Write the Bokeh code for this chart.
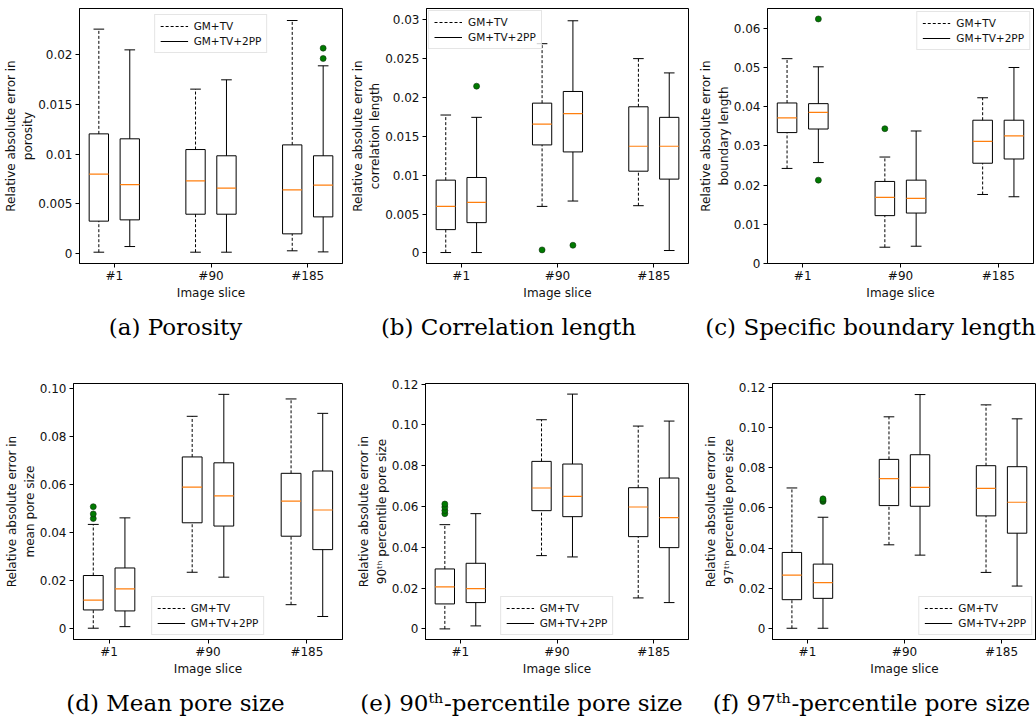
from bokeh.plotting import figure
from bokeh.layouts import column, row
from bokeh.models import (Range1d, FixedTicker, CustomJSTickFormatter, Legend,
                          LegendItem)
from bokeh.core.properties import value
from bokeh.embed import file_html
from bokeh.resources import INLINE

# ---------------- data ----------------
categories = ["#1", "#90", "#185"]
series_names = ["GM+TV", "GM+TV+2PP"]

# five-number summaries per image slice: [lower whisker, Q1, median, Q3, upper whisker]
porosity_gmtv = [[0.0001, 0.00323, 0.00797, 0.01203, 0.02259],
                 [0.0001, 0.00393, 0.00729, 0.01045, 0.01654],
                 [0.00024, 0.00195, 0.00639, 0.01092, 0.02346]]
porosity_2pp = [[0.00067, 0.00336, 0.00692, 0.01153, 0.0205],
                [0.0001, 0.00393, 0.00655, 0.00982, 0.01748],
                [0.00013, 0.00366, 0.00686, 0.00982, 0.01889]]
porosity_gmtv_out = []
porosity_2pp_out = [(2, 0.01963), (2, 0.02067)]

corr_gmtv = [[0.00004, 0.00299, 0.00598, 0.00936, 0.01774],
             [0.00598, 0.01389, 0.01658, 0.01927, 0.02692],
             [0.00607, 0.01051, 0.01372, 0.0188, 0.025]]
corr_2pp = [[0.00004, 0.00389, 0.0065, 0.0097, 0.01744],
            [0.00667, 0.01299, 0.01791, 0.02077, 0.02987],
            [0.0003, 0.00949, 0.01372, 0.01744, 0.02316]]
corr_gmtv_out = [(1, 0.00038)]
corr_2pp_out = [(0, 0.02145), (1, 0.00098)]

bound_gmtv = [[0.02427, 0.03342, 0.03716, 0.04098, 0.05229],
              [0.00416, 0.01222, 0.01687, 0.02095, 0.02718],
              [0.01762, 0.0256, 0.03117, 0.03658, 0.04231]]
bound_2pp = [[0.02577, 0.03433, 0.03857, 0.04081, 0.05021],
             [0.00441, 0.01288, 0.01663, 0.02128, 0.03383],
             [0.01704, 0.02668, 0.03259, 0.03658, 0.05004]]
bound_gmtv_out = [(1, 0.03441)]
bound_2pp_out = [(0, 0.06243), (0, 0.02128)]

mean_gmtv = [[0.0003, 0.00791, 0.012, 0.02224, 0.04352],
             [0.0236, 0.0442, 0.05907, 0.07162, 0.08854],
             [0.0101, 0.03861, 0.05321, 0.0648, 0.09577]]
mean_2pp = [[0.00095, 0.0075, 0.01664, 0.02538, 0.04625],
            [0.02156, 0.04284, 0.05539, 0.06917, 0.09768],
            [0.00518, 0.03302, 0.04952, 0.06576, 0.08977]]
mean_gmtv_out = [(0, 0.04598), (0, 0.04789), (0, 0.0509)]
mean_2pp_out = []

p90_gmtv = [[0.0, 0.01224, 0.02057, 0.02939, 0.0511],
            [0.03592, 0.05796, 0.06906, 0.08212, 0.10253],
            [0.01518, 0.04522, 0.05976, 0.06922, 0.09943]]
p90_2pp = [[0.00147, 0.0129, 0.01976, 0.03216, 0.0565],
           [0.03527, 0.05502, 0.06498, 0.08082, 0.1151],
           [0.0129, 0.03984, 0.05453, 0.07396, 0.10188]]
p90_gmtv_out = [(0, 0.0565), (0, 0.058), (0, 0.0597), (0, 0.0612)]
p90_2pp_out = []

p97_gmtv = [[0.0, 0.01425, 0.02651, 0.03778, 0.06993],
            [0.04159, 0.06114, 0.07457, 0.08418, 0.10539],
            [0.02784, 0.05601, 0.06976, 0.08103, 0.11135]]
p97_2pp = [[0.0, 0.01491, 0.0227, 0.03198, 0.05534],
           [0.03645, 0.06081, 0.07026, 0.0865, 0.11649],
           [0.02104, 0.04739, 0.0628, 0.08053, 0.10439]]
p97_gmtv_out = []
p97_2pp_out = [(0, 0.0632), (0, 0.0638), (0, 0.0645)]

# y tick values and labels
porosity_ticks = [0, 0.005, 0.01, 0.015, 0.02]
porosity_labels = ["0", "0.005", "0.01", "0.015", "0.02"]
corr_ticks = [0, 0.005, 0.01, 0.015, 0.02, 0.025, 0.03]
corr_labels = ["0", "0.005", "0.01", "0.015", "0.02", "0.025", "0.03"]
bound_ticks = [0, 0.01, 0.02, 0.03, 0.04, 0.05, 0.06]
bound_labels = ["0", "0.01", "0.02", "0.03", "0.04", "0.05", "0.06"]
mean_ticks = [0, 0.02, 0.04, 0.06, 0.08, 0.10]
mean_labels = ["0", "0.02", "0.04", "0.06", "0.08", "0.10"]
pct_ticks = [0, 0.02, 0.04, 0.06, 0.08, 0.10, 0.12]
pct_labels = ["0", "0.02", "0.04", "0.06", "0.08", "0.10", "0.12"]

y_titles = ["Relative absolute error in\nporosity",
            "Relative absolute error in\ncorrelation length",
            "Relative absolute error in\nboundary length",
            "Relative absolute error in\nmean pore size",
            "Relative absolute error in\n90\u1d57\u02b0 percentile pore size",
            "Relative absolute error in\n97\u1d57\u02b0 percentile pore size"]
captions = ["(a) Porosity", "(b) Correlation length", "(c) Specific boundary length",
            "(d) Mean pore size", "(e) 90\u1d57\u02b0-percentile pore size",
            "(f) 97\u1d57\u02b0-percentile pore size"]
x_title = "Image slice"

# ---------------- styling / layout ----------------
SANS = "DejaVu Sans"
SERIF = "DejaVu Serif"
TXT = "#111111"
OFF = 0.16
HALF_W = 0.10
CAP_HALF = 0.055


def panel(stats_tv, stats_pp, out_tv, out_pp, yticks, ylabels, ytitle,
          yrange, W, H, L, R, T, B, leg_loc, leg_margin):
    p = figure(width=W, height=H, title=None, output_backend="svg",
               toolbar_location=None, x_range=Range1d(-0.36, 2.36),
               y_range=Range1d(*yrange), min_border_left=L, min_border_right=R,
               min_border_top=T, min_border_bottom=B)
    p.xgrid.visible = False
    p.ygrid.visible = False
    p.outline_line_color = "black"
    p.outline_line_width = 1
    p.outline_line_alpha = 1
    p.background_fill_color = "white"
    p.border_fill_color = "white"

    legend_r = []
    for k, (stats, outs, dash) in enumerate([(stats_tv, out_tv, "3 2"),
                                            (stats_pp, out_pp, "solid")]):
        dx = -OFF if k == 0 else OFF
        xs = [i + dx for i in range(len(categories))]
        low = [s[0] for s in stats]
        q1 = [s[1] for s in stats]
        med = [s[2] for s in stats]
        q3 = [s[3] for s in stats]
        high = [s[4] for s in stats]
        wr = p.segment(x0=xs, x1=xs, y0=q3, y1=high, line_color="black",
                       line_width=1, line_dash=dash)
        p.segment(x0=xs, x1=xs, y0=low, y1=q1, line_color="black",
                  line_width=1, line_dash=dash)
        p.segment(x0=[x - CAP_HALF for x in xs], x1=[x + CAP_HALF for x in xs],
                  y0=high, y1=high, line_color="black", line_width=1)
        p.segment(x0=[x - CAP_HALF for x in xs], x1=[x + CAP_HALF for x in xs],
                  y0=low, y1=low, line_color="black", line_width=1)
        p.quad(left=[x - HALF_W for x in xs], right=[x + HALF_W for x in xs],
               bottom=q1, top=q3, fill_color=None, line_color="black", line_width=1)
        p.segment(x0=[x - HALF_W for x in xs], x1=[x + HALF_W for x in xs],
                  y0=med, y1=med, line_color="#ff7f0e", line_width=1.2)
        if outs:
            p.scatter(x=[o[0] + dx for o in outs], y=[o[1] for o in outs], size=6,
                      fill_color="#007a00", line_color="#103010", line_width=0.6)
        legend_r.append(wr)

    # axes
    p.xaxis.ticker = FixedTicker(ticks=list(range(len(categories))))
    p.xaxis.formatter = CustomJSTickFormatter(args=dict(cat_names=categories),
                                              code="return cat_names[Math.round(tick)];")
    p.yaxis.ticker = FixedTicker(ticks=yticks)
    p.yaxis.formatter = CustomJSTickFormatter(args=dict(tick_vals=yticks, tick_txt=ylabels), code="""
        let best = 0, bd = Infinity;
        for (let i = 0; i < tick_vals.length; i++) {
            const d = Math.abs(tick_vals[i] - tick);
            if (d < bd) { bd = d; best = i; }
        }
        return tick_txt[best];
    """)
    for ax in (p.xaxis[0], p.yaxis[0]):
        ax.axis_line_color = "black"
        ax.major_tick_line_color = "black"
        ax.major_tick_out = 4
        ax.major_tick_in = 0
        ax.minor_tick_line_color = None
        ax.major_label_text_font = SANS
        ax.major_label_text_font_size = "12px"
        ax.major_label_text_color = TXT
        ax.major_label_standoff = 3
        ax.axis_label_text_font = SANS
        ax.axis_label_text_font_size = "12px"
        ax.axis_label_text_font_style = "normal"
        ax.axis_label_text_color = TXT
    p.xaxis.axis_label = x_title
    p.xaxis.major_label_standoff = 1
    p.xaxis.axis_label_standoff = 0
    p.yaxis.axis_label = ytitle
    p.yaxis.axis_label_standoff = 0
    p.yaxis.axis_label_text_line_height = 1.25

    legend = Legend(items=[LegendItem(label=series_names[0], renderers=[legend_r[0]]),
                           LegendItem(label=series_names[1], renderers=[legend_r[1]])],
                    location=leg_loc, margin=leg_margin, padding=5, spacing=3,
                    glyph_width=28, glyph_height=12, label_height=12,
                    label_standoff=6, label_text_font=SANS,
                    label_text_font_size="10.5px", label_text_color=TXT,
                    border_line_color="#cccccc", border_line_width=1,
                    background_fill_alpha=0.8)
    p.add_layout(legend)
    return p


def caption_box(text, W, H, cx, base_from_top):
    c = figure(width=W, height=H, title=None, output_backend="svg",
               toolbar_location=None, x_range=Range1d(0, W), y_range=Range1d(0, H),
               x_axis_type=None, y_axis_type=None, min_border=0)
    c.xgrid.visible = False
    c.ygrid.visible = False
    c.outline_line_color = None
    c.text(x=[cx], y=[H - base_from_top], text=[text], text_font=value(SERIF),
           text_font_size="23px", text_color="black", text_align="center",
           text_baseline="alphabetic")
    return c


W1, W2, W3 = 345, 345, 346
H_TOP, H_CAP1, H_BOT, H_CAP2 = 305, 45, 330, 41

pa = panel(porosity_gmtv, porosity_2pp, porosity_gmtv_out, porosity_2pp_out,
           porosity_ticks, porosity_labels, y_titles[0],
           (-0.00104, 0.02467), W1, H_TOP, 79, 3, 8, 42, "top_center", 6)
pb = panel(corr_gmtv, corr_2pp, corr_gmtv_out, corr_2pp_out,
           corr_ticks, corr_labels, y_titles[1],
           (-0.00137, 0.03145), W2, H_TOP, 81, 2, 7, 42, "top_left", 2)
pc = panel(bound_gmtv, bound_2pp, bound_gmtv_out, bound_2pp_out,
           bound_ticks, bound_labels, y_titles[2],
           (0.0, 0.0651), W3, H_TOP, 77, 3, 2, 42, "top_right", 3)
pd = panel(mean_gmtv, mean_2pp, mean_gmtv_out, mean_2pp_out,
           mean_ticks, mean_labels, y_titles[3],
           (-0.0044, 0.1022), W1, H_BOT, 73, 3, 29, 41, "bottom_center", 4)
pe = panel(p90_gmtv, p90_2pp, p90_gmtv_out, p90_2pp_out,
           pct_ticks, pct_labels, y_titles[4],
           (-0.0052, 0.1203), W2, H_BOT, 80, 2, 33, 41, "bottom_center", 4)
pf = panel(p97_gmtv, p97_2pp, p97_gmtv_out, p97_2pp_out,
           pct_ticks, pct_labels, y_titles[5],
           (-0.0056, 0.1220), W3, H_BOT, 82, 0, 33, 40, "bottom_right", 4)

ca = caption_box(captions[0], W1, H_CAP1, 175, 21)
cb = caption_box(captions[1], W2, H_CAP1, 163, 21)
cc = caption_box(captions[2], W3, H_CAP1, 180, 21)
cd = caption_box(captions[3], W1, H_CAP2, 175, 22)
ce = caption_box(captions[4], W2, H_CAP2, 176, 22)
cf = caption_box(captions[5], W3, H_CAP2, 181, 22)

layout = column(row(pa, pb, pc), row(ca, cb, cc),
                row(pd, pe, pf), row(cd, ce, cf))

with open("out.html", "w") as f:
    f.write(file_html(layout, INLINE))
